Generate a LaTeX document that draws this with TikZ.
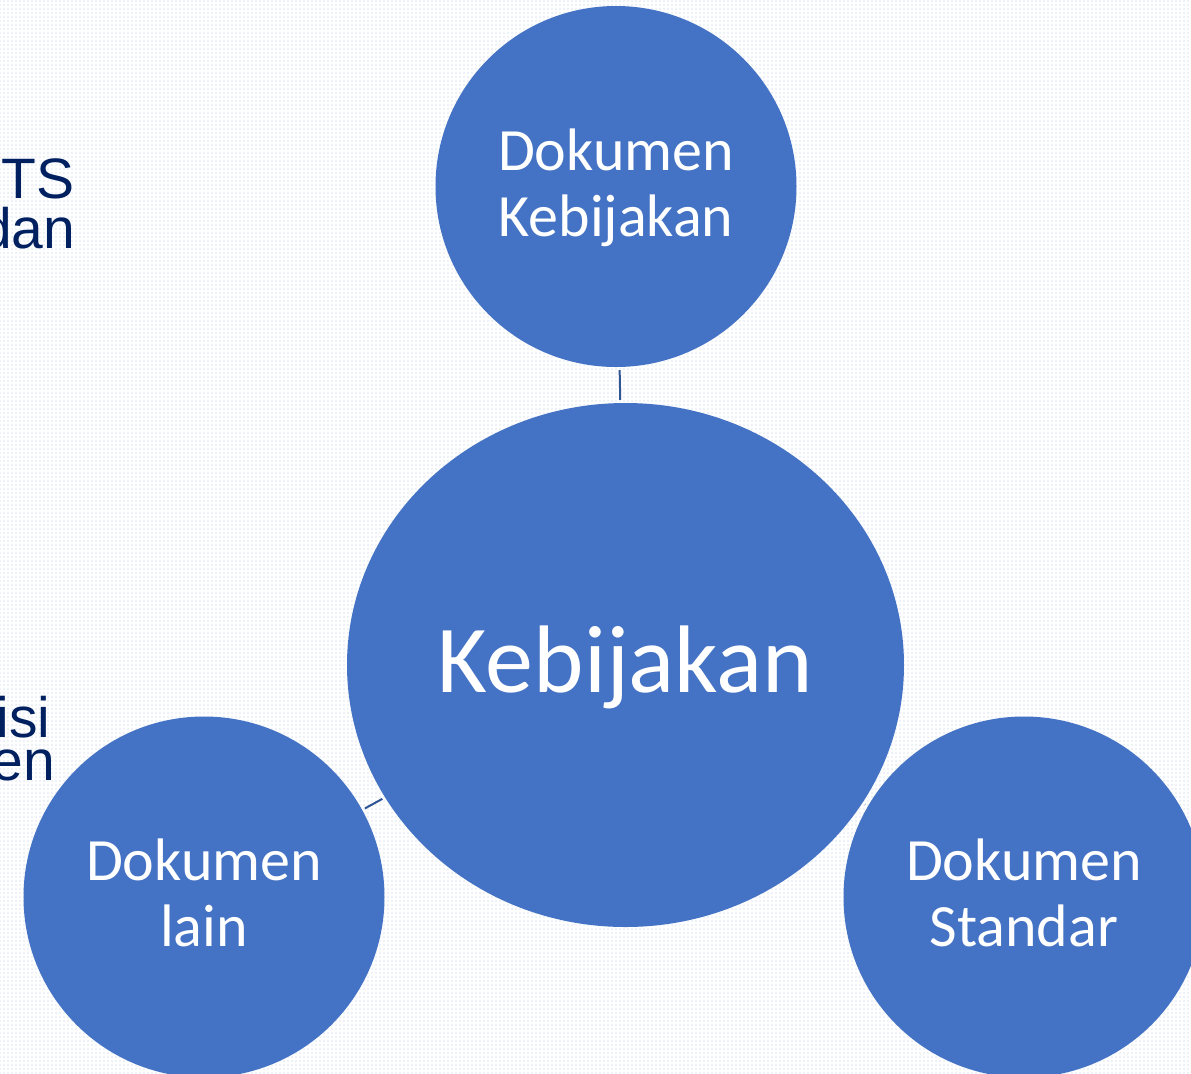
\documentclass[tikz,border=0pt]{standalone}
\usepackage{fontspec}
\setmainfont{Carlito}
\newfontfamily\arialf{Liberation Sans}
\usetikzlibrary{shapes.geometric,patterns.meta}
\definecolor{ofblue}{HTML}{4472C4}
\definecolor{lnblue}{HTML}{2F5597}
\definecolor{navytxt}{HTML}{002060}
\definecolor{dotc}{HTML}{DCE6F4}
\newcommand\lnstrut{\rule[-8.25pt]{0pt}{33pt}}
\tikzset{
  bub/.style={circle, fill=ofblue, minimum size=180.5pt, inner sep=0pt,
    text=white, align=center, font=\fontsize{30}{33}\selectfont},
  hub/.style={ellipse, fill=ofblue, minimum width=278.5pt, minimum height=262pt,
    inner sep=0pt, text=white, font=\fontsize{48}{52}\selectfont},
  conn/.style={draw=lnblue, line width=1pt, shorten <=1.4pt, shorten >=1.4pt},
  side/.style={text=navytxt, font=\arialf\fontsize{28.5}{30}\selectfont,
    inner sep=0pt, anchor=base east}
}
\begin{document}
\begin{tikzpicture}[x=0.5pt,y=-0.5pt]
\useasboundingbox (0,0) rectangle (1191,1073);
\fill[white] (0,0) rectangle (1191,1073);
\fill[pattern={Dots[distance=2pt,radius=0.45pt]}, pattern color=dotc] (0,0) rectangle (1191,1073);

\node[side] (ts)  at (74.6,198) {TS};
\node[side] (dan) at (75.7,248) {dan};
\node[side] (isi) at (50.8,737) {isi};
\node[side] (en)  at (55.7,780) {en};

\node[hub] (hub) at (625.5,665) {\raisebox{0pt}[27pt][0pt]{Kebijakan}};
\node[bub] (top) at (616,186.5) {\lnstrut Dokumen\\\lnstrut Kebijakan};
\node[bub] (lft) at (204,897) {\lnstrut Dokumen\\\lnstrut lain};
\node[bub] (rgt) at (1024,897) {\lnstrut Dokumen\\\lnstrut Standar};

\draw[conn] (top) -- (hub);
\draw[conn] (lft) -- (hub);
\draw[conn] (rgt) -- (hub);
\end{tikzpicture}
\end{document}
